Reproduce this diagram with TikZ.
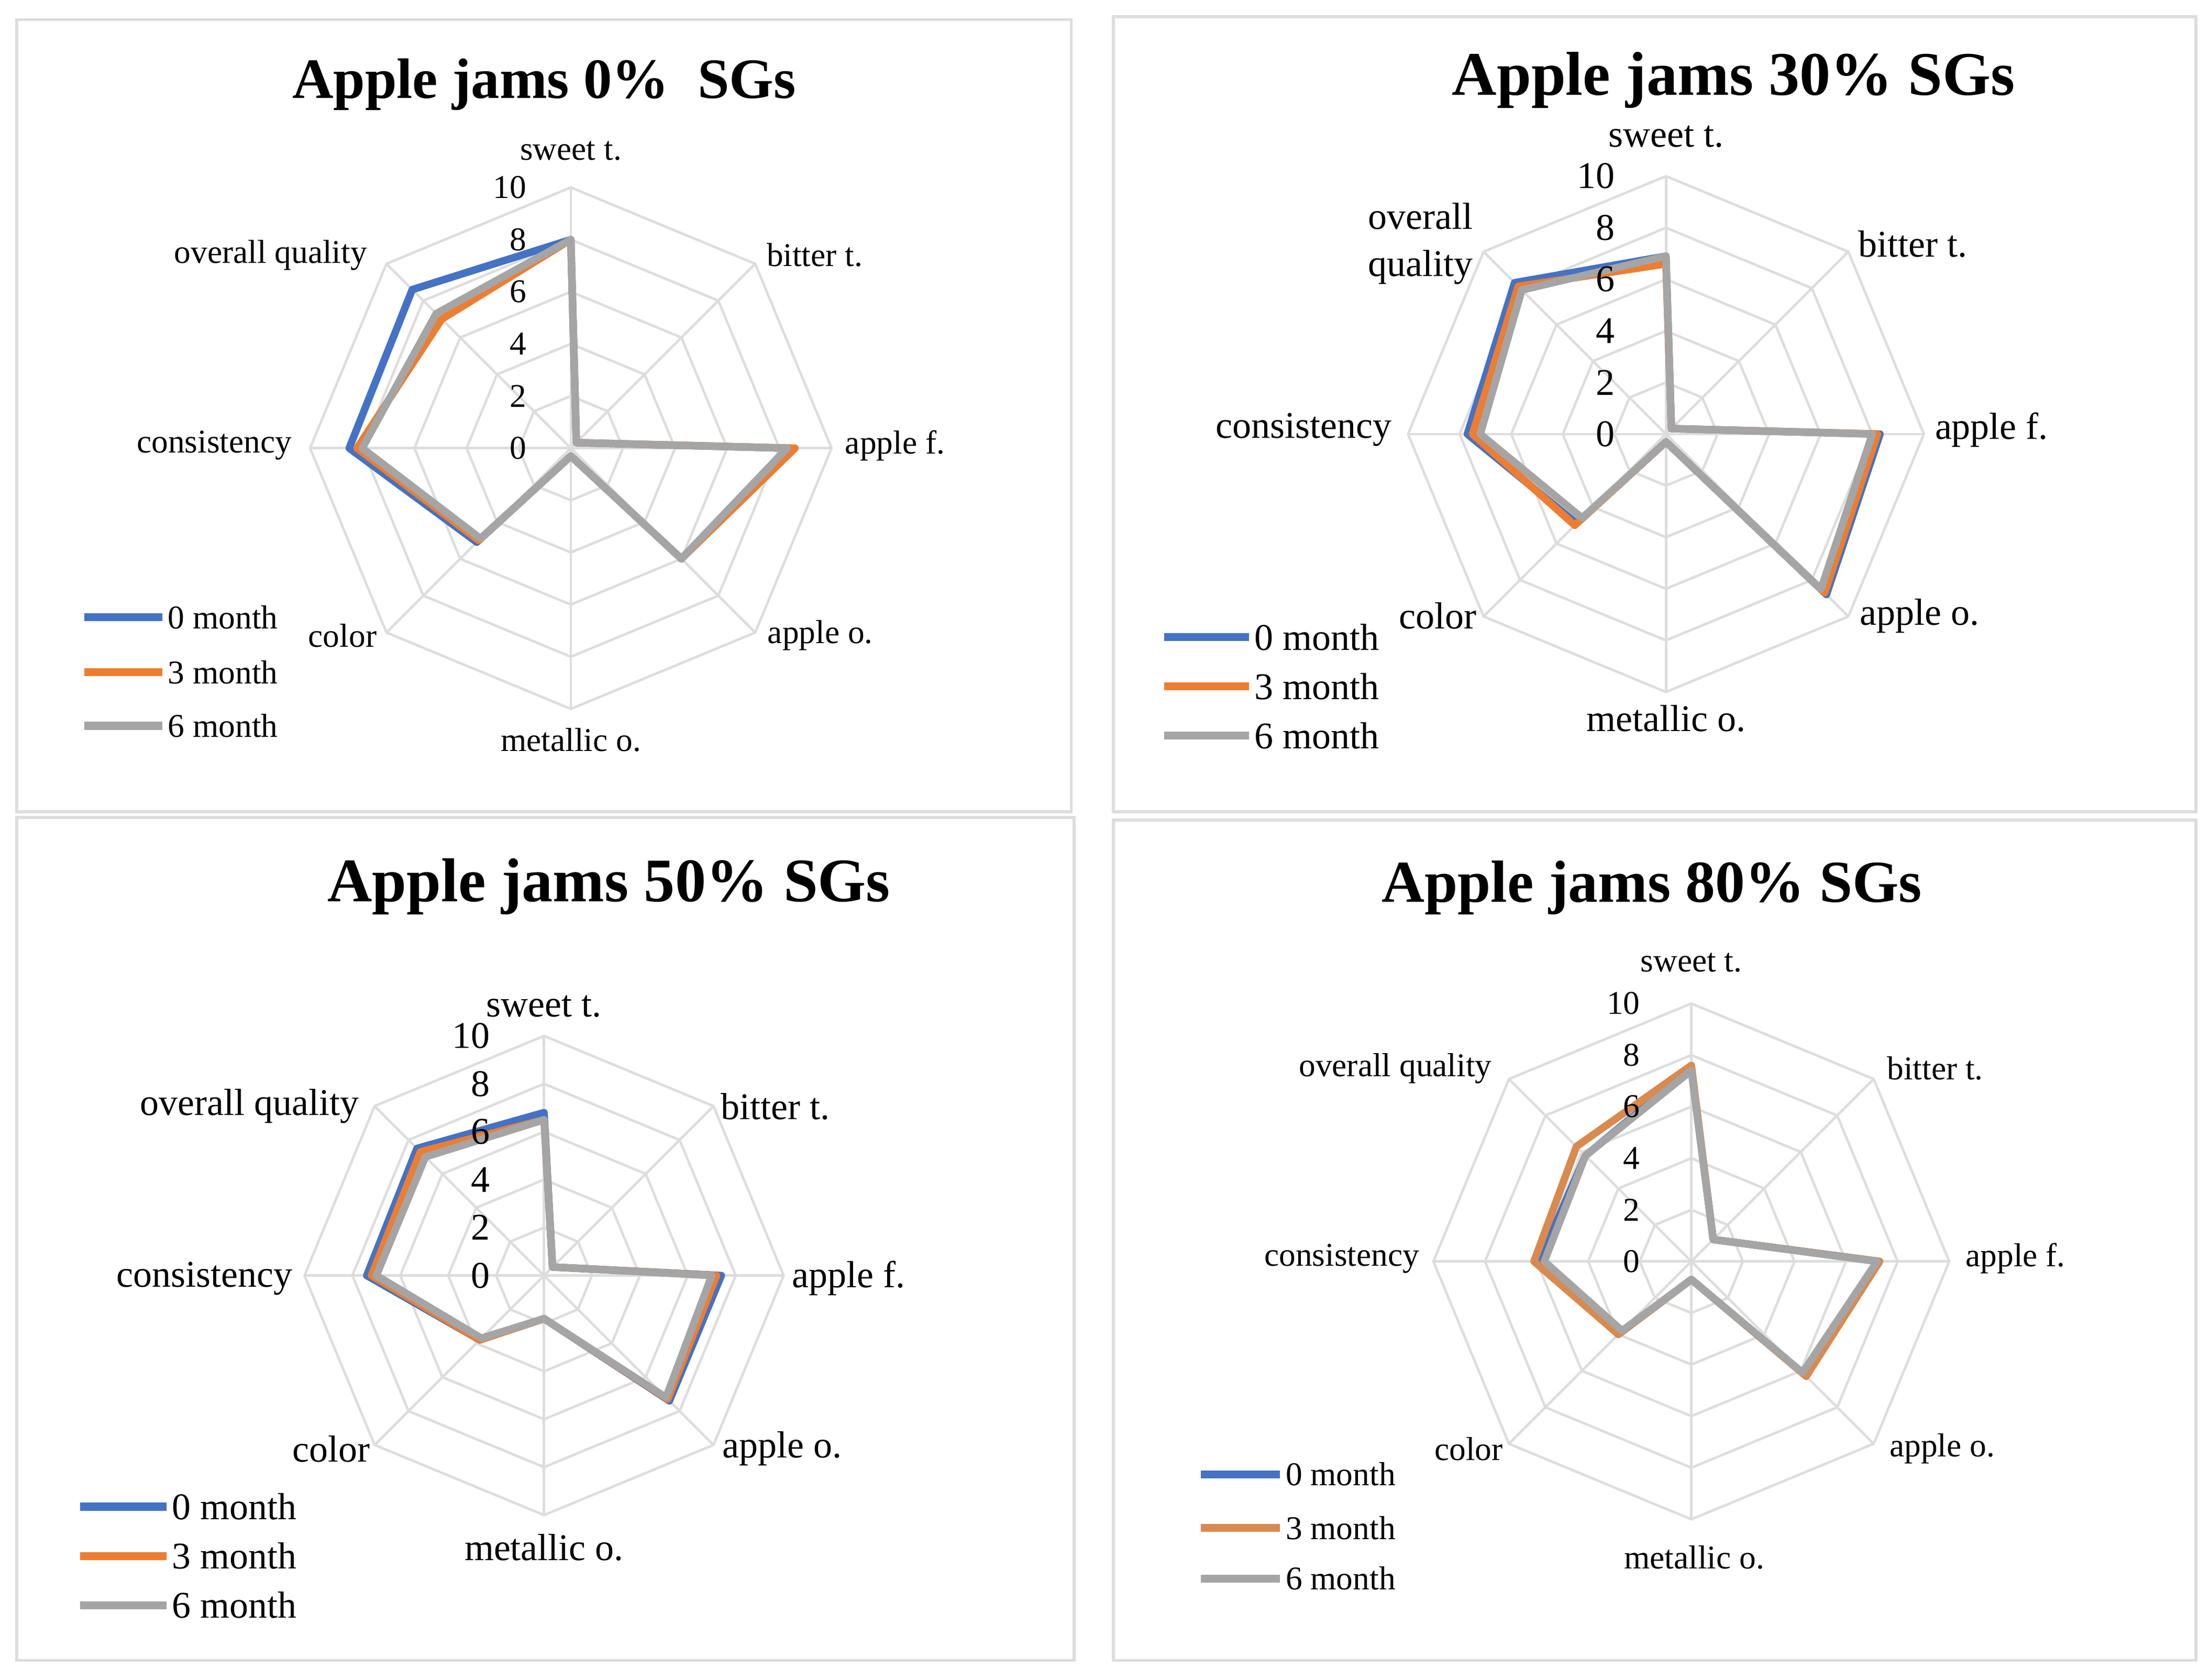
\documentclass[tikz,border=0pt]{standalone}
\usepackage{fontspec}
\setmainfont{Liberation Serif}
\definecolor{cblue}{HTML}{4472C4}
\definecolor{corange}{HTML}{ED7D31}
\definecolor{corangeb}{HTML}{D98A4E}
\definecolor{cgray}{HTML}{A5A5A5}
\definecolor{cgrid}{HTML}{DDDDDD}
\begin{document}
\begin{tikzpicture}[x=0.01cm,y=-0.01cm,
  panel/.style={draw=cgrid,line width=0.6pt},
  grid/.style={draw=cgrid,line width=0.5pt},
  ser/.style={line width=1.5pt,line join=round},
  ttl/.style={font=\bfseries\fontsize{11}{13}\selectfont},
  lab/.style={font=\fontsize{6.7}{7.5}\selectfont},
  labB/.style={font=\fontsize{7.6}{8.5}\selectfont}]
\useasboundingbox (0,0) rectangle (1568,1192);
\newcommand\poly[7]{% name cx cy R style vals scale
  \foreach \v [count=\i from 0] in {#6}
    \coordinate (#1\i) at ({#2+#7*\v/10*#4*cos(90-45*\i)},{#3-#7*\v/10*#4*sin(90-45*\i)});
  \draw[#5] (#10)--(#11)--(#12)--(#13)--(#14)--(#15)--(#16)--(#17)--cycle;}
\newcommand\radar[4]{% name cx cy R
  \foreach \k in {2,4,6,8,10}{\poly{#1g\k x}{#2}{#3}{#4}{grid}{10,10,10,10,10,10,10,10}{\k/10}}
  \foreach \i in {0,...,7}\draw[grid] (#2,#3) -- (#1g10x\i);}
\newcommand\ticks[5]{% name cx cy style R
  \foreach \k in {0,2,...,10}\node[#4,anchor=east] (t#1\k) at ({#2-4},{#3-\k/10*#5}) {\k};}
% panels
\draw[panel] (12,14) rectangle (760,576);
\draw[panel] (790,12) rectangle (1558,576);
\draw[panel] (12,580) rectangle (762,1178);
\draw[panel] (790,582) rectangle (1558,1178);
% ---------- panel 1
\radar{a}{405}{318}{185}
\poly{b}{405}{318}{185}{ser,cblue}{8,0.3,8.3,6,0.3,5.1,8.5,8.6}{1}
\poly{c}{405}{318}{185}{ser,corange}{8,0.3,8.6,6,0.3,5,8.2,7.0}{1}
\poly{d}{405}{318}{185}{ser,cgray}{8,0.3,8.3,6,0.3,4.9,8.0,7.3}{1}
\ticks{a}{390}{318}{lab}{185}
\node[ttl,font=\bfseries\fontsize{11.5}{13}\selectfont] (T1) at (386,60) {Apple jams 0\%\ \ SGs};
\node[lab] (l1a) at (405,107) {sweet t.};
\node[lab] (l1b) at (578,181) {bitter t.};
\node[lab] (l1c) at (635,316) {apple f.};
\node[lab] (l1d) at (582,451) {apple o.};
\node[lab] (l1e) at (405,525) {metallic o.};
\node[lab] (l1f) at (243,451) {color};
\node[lab] (l1g) at (152,316) {consistency};
\node[lab] (l1h) at (192,181) {overall quality};
\foreach \c/\t/\y in {cblue/0/438,corange/3/477,cgray/6/515}{
  \coordinate (la\t) at (60,\y); \coordinate (lb\t) at (115,\y);
  \draw[\c,line width=1.6pt] (la\t) -- (lb\t);
  \node[lab,anchor=west,inner sep=1pt] (lt1\t) at (lb\t) {\t\ month};}
% ---------- panel 2
\radar{b}{1182}{308}{183}
\poly{e}{1182}{308}{183}{ser,cblue}{6.9,0.3,8.3,8.8,0.3,4.9,7.7,8.3}{1}
\poly{f}{1182}{308}{183}{ser,corange}{6.6,0.3,8.2,8.7,0.3,5.0,7.5,8.1}{1}
\poly{g}{1182}{308}{183}{ser,cgray}{6.9,0.3,8.0,8.5,0.3,4.6,7.2,7.9}{1}
\ticks{b}{1162}{308}{labB}{183}
\node[ttl,font=\bfseries\fontsize{12.5}{14}\selectfont] (T2) at (1230,57) {Apple jams 30\% SGs};
\node[labB] (l2a) at (1182,97) {sweet t.};
\node[labB] (l2b) at (1357,173) {bitter t.};
\node[labB] (l2c) at (1413,305) {apple f.};
\node[labB] (l2d) at (1362,437) {apple o.};
\node[labB] (l2e) at (1182,510) {metallic o.};
\node[labB] (l2f) at (1020,437) {color};
\node[labB] (l2g) at (925,305) {consistency};
\node[labB,align=left] (l2h) at (1008,173) {overall\\[1pt]quality};
\foreach \c/\t/\y in {cblue/0/452,corange/3/487,cgray/6/522}{
  \coordinate (lc\t) at (826,\y); \coordinate (ld\t) at (886,\y);
  \draw[\c,line width=1.6pt] (lc\t) -- (ld\t);
  \node[labB,anchor=west,inner sep=1pt] (lt2\t) at (ld\t) {\t\ month};}
% ---------- panel 3
\radar{c}{386}{905}{170}
\poly{h}{386}{905}{170}{ser,cblue}{6.8,0.5,7.4,7.4,1.8,3.8,7.4,7.5}{1}
\poly{i}{386}{905}{170}{ser,corange}{6.5,0.5,7.2,7.3,1.8,3.8,7.2,7.3}{1}
\poly{j}{386}{905}{170}{ser,cgray}{6.5,0.5,7.0,7.2,1.8,3.7,7.0,7.0}{1}
\ticks{c}{364}{905}{labB}{170}
\node[ttl,font=\bfseries\fontsize{12.5}{14}\selectfont] (T3) at (432,629) {Apple jams 50\% SGs};
\node[labB] (l3a) at (386,714) {sweet t.};
\node[labB] (l3b) at (550,785) {bitter t.};
\node[labB] (l3c) at (602,907) {apple f.};
\node[labB] (l3d) at (555,1028) {apple o.};
\node[labB] (l3e) at (386,1098) {metallic o.};
\node[labB] (l3f) at (235,1028) {color};
\node[labB] (l3g) at (145,907) {consistency};
\node[labB] (l3h) at (177,785) {overall quality};
\foreach \c/\t/\y in {cblue/0/1069,corange/3/1104,cgray/6/1139}{
  \coordinate (le\t) at (57,\y); \coordinate (lf\t) at (118,\y);
  \draw[\c,line width=1.6pt] (le\t) -- (lf\t);
  \node[labB,anchor=west,inner sep=1pt] (lt3\t) at (lf\t) {\t\ month};}
% ---------- panel 4
\radar{d}{1200}{895}{183}
\poly{k}{1200}{895}{183}{ser,cblue}{7.5,1.2,7.3,6.2,0.7,4.0,5.9,5.8}{1}
\poly{m}{1200}{895}{183}{ser,corangeb}{7.6,1.2,7.3,6.3,0.7,4.0,6.1,6.3}{1}
\poly{n}{1200}{895}{183}{ser,cgray}{7.4,1.2,7.2,6.1,0.7,3.8,5.7,5.8}{1}
\ticks{d}{1180}{895}{lab}{183}
\node[ttl,font=\bfseries\fontsize{12}{14}\selectfont] (T4) at (1172,630) {Apple jams 80\% SGs};
\node[lab] (l4a) at (1200,683) {sweet t.};
\node[lab] (l4b) at (1373,758) {bitter t.};
\node[lab] (l4c) at (1430,893) {apple f.};
\node[lab] (l4d) at (1378,1028) {apple o.};
\node[lab] (l4e) at (1202,1105) {metallic o.};
\node[lab] (l4f) at (1042,1028) {color};
\node[lab] (l4g) at (952,893) {consistency};
\node[lab] (l4h) at (990,758) {overall quality};
\foreach \c/\t/\y in {cblue/0/1046,corangeb/3/1084,cgray/6/1120}{
  \coordinate (lg\t) at (852,\y); \coordinate (lh\t) at (908,\y);
  \draw[\c,line width=1.6pt] (lg\t) -- (lh\t);
  \node[lab,anchor=west,inner sep=1pt] (lt4\t) at (lh\t) {\t\ month};}
\end{tikzpicture}
\end{document}
